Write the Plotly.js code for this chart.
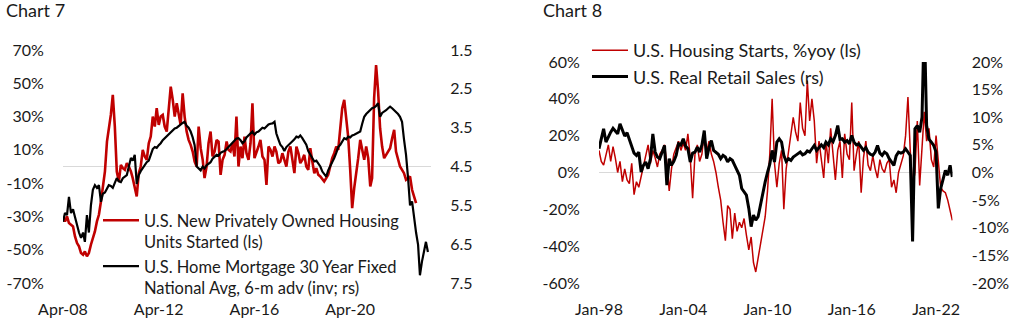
<!DOCTYPE html>
<html>
<head>
<meta charset="utf-8">
<script src="https://cdn.plot.ly/plotly-3.0.1.min.js"></script>
<style>html,body{margin:0;padding:0;background:#fff;}#chart{width:1017px;height:328px;}</style>
</head>
<body>
<div id="chart"></div>
<script>
// ---------- Chart 7 data (monthly, starting Apr-2008) ----------
const c7Start = [2008, 4];
const c7RedName = 'U.S. New Privately Owned Housing<br>Units Started (ls)';
const c7BlackName = 'U.S. Home Mortgage 30 Year Fixed<br>National Avg, 6-m adv (inv; rs)';
const c7Red = [
 -31,-33,-30,-34,-35,-36,-42,-46,-48,-52,
 -53,-51,-54,-52,-47,-43,-39,-33,-29,-21,
 -12,-3,15,23,31,43,24,-3,-9,1,
 -1,-2,2,0,-3,-7,-12,-18,-4,0,
 10,6,4,14,18,30,24,35,25,30,
 31,24,21,34,48,40,30,38,32,25,
 44,30,21,16,13,9,3,0,24,11,
 4,-7,0,14,21,6,9,16,15,-5,
 4,7,15,10,9,14,6,30,0,12,
 5,18,8,4,14,38,5,8,12,16,
 6,4,-11,12,10,6,12,9,2,3,
 8,4,0,9,12,4,-4,12,8,2,
 4,7,0,-2,11,3,-4,-1,-5,-6,
 -8,-9,-7,-5,0,5,8,12,10,24,
 35,40,28,18,-2,-25,-13,-5,5,16,
 9,4,12,5,-12,-7,41,61,45,23,
 12,5,7,9,11,17,22,9,4,0,
 -2,-4,-8,-7,-6,-14,-18,-22
];
const c7Black = [
 5.92,5.7,5.75,5.28,5.7,5.6,5.8,6.05,6.2,6.34,
 6.2,6.44,5.75,6.2,5.5,5.1,4.98,5.05,4.98,5.41,
 5.2,5.17,5.05,4.98,5.0,5.05,4.92,4.8,4.88,4.9,
 4.8,4.75,4.72,4.5,4.28,4.35,4.2,4.95,4.72,4.62,
 4.54,4.48,4.39,4.35,4.2,4.05,4.0,4.02,3.95,3.9,
 3.82,3.77,3.72,3.68,3.64,3.58,3.52,3.5,3.45,3.42,
 3.38,3.35,3.45,3.5,3.6,3.75,3.95,4.5,4.54,4.6,
 4.5,4.55,4.47,4.42,4.39,4.3,4.25,4.2,4.22,4.15,
 4.12,4.1,4.05,4.0,3.95,3.9,3.85,3.78,3.77,3.82,
 3.9,3.85,3.75,3.7,3.65,3.6,3.68,3.62,3.6,3.55,
 3.5,3.52,3.47,3.42,3.4,3.39,3.35,3.65,3.8,3.94,
 4.0,4.1,4.0,3.94,3.9,3.85,3.8,3.73,3.75,3.7,
 3.77,3.85,3.94,4.1,4.2,4.3,4.37,4.35,4.41,4.5,
 4.63,4.7,4.76,4.6,4.5,4.4,4.28,4.15,4.0,3.94,
 3.85,3.77,3.8,3.73,3.75,3.7,3.68,3.65,3.62,3.6,
 3.4,3.22,3.15,3.09,3.05,3.0,2.98,2.94,2.87,3.22,
 3.12,3.09,3.05,3.0,2.96,3.0,3.05,3.09,3.15,3.22,
 3.35,3.8,4.2,4.8,5.5,5.4,5.83,6.2,6.52,7.3,
 6.95,6.7,6.44,6.7
];
const c7XTickVals = ['2008-04-01','2012-04-01','2016-04-01','2020-04-01'];
const c7XTickText = ['Apr-08','Apr-12','Apr-16','Apr-20'];
const c7YLeftVals = [-70,-50,-30,-10,10,30,50,70];
const c7YLeftText = ['-70%','-50%','-30%','-10%','10%','30%','50%','70%'];
const c7YRightVals = [1.5,2.5,3.5,4.5,5.5,6.5,7.5];
const c7YRightText = ['1.5','2.5','3.5','4.5','5.5','6.5','7.5'];

// ---------- Chart 8 data (every 2 months, starting Jan-1998) ----------
const c8Start = [1998, 1];
const c8Step = 2;
const c8RedName = 'U.S. Housing Starts, %yoy (ls)';
const c8BlackName = 'U.S. Real Retail Sales (rs)';
const c8Red = [
 12,6,4,10,15,6,14,8,0,6,
 -5,2,-4,-6,5,-12,-5,-8,-2,4,
 9,15,5,12,8,3,10,12,15,5,
 -10,2,10,14,17,12,16,12,21,8,
 -14,10,15,6,10,22,11,17,10,6,
 0,-8,-15,-27,-37,-18,-20,-36,-22,-32,
 -27,-30,-25,-34,-42,-35,-49,-54,-46,-40,
 -32,-24,-10,10,40,5,-8,5,12,-20,
 2,12,20,30,22,17,38,24,20,50,
 28,40,28,5,17,8,-3,17,5,24,
 10,-4,12,17,-3,21,10,7,38,1,
 10,17,-11,8,17,4,1,9,2,-3,
 7,2,0,5,7,-8,-4,-11,0,4,
 9,20,41,12,-8,0,28,-7,15,33,
 17,24,7,3,20,5,-8,-10,-11,-15,
 -20,-26
];
const c8Black = [
 4.3,6.0,7.9,5.5,6.5,7.3,8.0,7.5,7.0,8.8,
 7.5,6.6,7.2,6.0,4.9,3.5,3.1,3.7,0.1,1.3,
 1.9,0.7,2.5,7.0,3.7,2.8,2.5,3.7,4.9,-2.3,
 2.5,1.3,2.0,3.1,5.2,5.0,6.1,4.8,4.3,1.9,
 3.5,3.7,4.6,3.7,5.0,7.6,2.5,4.5,5.8,4.0,
 3.7,3.3,2.5,3.1,2.8,1.9,2.5,2.2,1.3,0.5,
 -0.5,-2.9,-3.5,-4.1,-6.5,-9.8,-7.7,-8.6,-8.0,-5.9,
 -3.5,-1.7,0.0,1.5,4.0,1.9,5.5,6.1,5.5,3.1,
 2.0,2.5,2.2,2.8,3.1,3.4,3.7,3.2,3.4,3.9,
 3.7,4.3,4.9,4.0,4.6,5.0,4.5,5.5,5.0,6.1,
 5.6,6.7,8.5,6.0,6.1,5.5,5.8,5.2,6.7,5.5,
 5.0,5.2,4.6,4.0,4.5,3.7,3.3,3.1,3.7,4.9,
 3.5,3.1,3.7,3.4,2.5,2.0,1.3,3.0,3.7,3.5,
 3.7,4.3,3.8,3.1,-12.5,7.9,8.5,7.3,10.0,28,
 8.5,6.0,5.5,4.9,3.7,-6.5,-2.9,-1.1,0.4,-0.5,
 1.3,-0.8
];
const c8XTickVals = ['1998-01-01','2004-01-01','2010-01-01','2016-01-01','2022-01-01'];
const c8XTickText = ['Jan-98','Jan-04','Jan-10','Jan-16','Jan-22'];
const c8YLeftVals = [-60,-40,-20,0,20,40,60];
const c8YLeftText = ['-60%','-40%','-20%','0%','20%','40%','60%'];
const c8YRightVals = [-20,-15,-10,-5,0,5,10,15,20];
const c8YRightText = ['-20%','-15%','-10%','-5%','0%','5%','10%','15%','20%'];

// ---------- helpers ----------
function monthDates(start, count, step) {
  const out = [];
  for (let i = 0; i < count; i++) {
    const tot = (start[0] * 12 + (start[1] - 1)) + i * step;
    const y = Math.floor(tot / 12), m = tot % 12 + 1;
    out.push(y + '-' + String(m).padStart(2, '0') + '-01');
  }
  return out;
}

const RED = '#C00000';
const FONT = 'Lato, "Liberation Sans", sans-serif';
const TXT = '#1a1a1a';
const W = 1017, H = 328;

const traces = [
  { x: monthDates(c7Start, c7Red.length, 1), y: c7Red, name: c7RedName, type: 'scatter', mode: 'lines',
    line: { color: RED, width: 2.6 }, xaxis: 'x', yaxis: 'y', legend: 'legend' },
  { x: monthDates(c7Start, c7Black.length, 1), y: c7Black, name: c7BlackName, type: 'scatter', mode: 'lines',
    line: { color: '#000000', width: 2.2 }, xaxis: 'x', yaxis: 'y2', legend: 'legend' },
  { x: monthDates(c8Start, c8Red.length, c8Step), y: c8Red, name: c8RedName, type: 'scatter', mode: 'lines',
    line: { color: RED, width: 1.5 }, xaxis: 'x2', yaxis: 'y3', legend: 'legend2' },
  { x: monthDates(c8Start, c8Black.length, c8Step), y: c8Black, name: c8BlackName, type: 'scatter', mode: 'lines',
    line: { color: '#000000', width: 3 }, xaxis: 'x2', yaxis: 'y4', legend: 'legend2' }
];

const tickFont = { family: FONT, size: 16, color: TXT };
const hidden = 'rgba(0,0,0,0)';
const yDom7 = [1 - 283 / H, 1 - 50 / H];
const yDom8 = [1 - 283 / H, 1 - 62 / H];

const baseX = { type: 'date', showgrid: false, zeroline: false, showline: false, tickmode: 'array',
  ticks: 'outside', ticklen: 12, tickcolor: hidden, tickfont: tickFont, fixedrange: true };
const baseY = { showgrid: false, showline: false, tickmode: 'array', ticks: 'outside', ticklen: 15,
  tickcolor: hidden, tickfont: tickFont, fixedrange: true };

const layout = {
  width: W, height: H,
  margin: { l: 0, r: 0, t: 0, b: 0 },
  paper_bgcolor: '#ffffff', plot_bgcolor: '#ffffff',
  font: { family: FONT, color: TXT },
  xaxis: Object.assign({}, baseX, { domain: [63 / W, 431 / W], anchor: 'y',
    range: ['2008-04-01', '2023-08-17'], tickvals: c7XTickVals, ticktext: c7XTickText }),
  yaxis: Object.assign({}, baseY, { domain: yDom7, anchor: 'x', range: [-70, 70],
    tickvals: c7YLeftVals, ticktext: c7YLeftText, zeroline: true, zerolinecolor: '#d9d9d9', zerolinewidth: 1 }),
  yaxis2: Object.assign({}, baseY, { overlaying: 'y', side: 'right', anchor: 'x', range: [7.5, 1.5],
    tickvals: c7YRightVals, ticktext: c7YRightText, zeroline: false }),
  xaxis2: Object.assign({}, baseX, { domain: [599 / W, 952.5 / W], anchor: 'y3',
    range: ['1998-01-01', '2023-03-05'], tickvals: c8XTickVals, ticktext: c8XTickText }),
  yaxis3: Object.assign({}, baseY, { domain: yDom8, anchor: 'x2', range: [-60, 60],
    tickvals: c8YLeftVals, ticktext: c8YLeftText, zeroline: true, zerolinecolor: '#d9d9d9', zerolinewidth: 1 }),
  yaxis4: Object.assign({}, baseY, { overlaying: 'y3', side: 'right', anchor: 'x2', range: [-20, 20],
    tickvals: c8YRightVals, ticktext: c8YRightText, zeroline: false }),
  showlegend: true,
  legend: { x: 98 / W, xanchor: 'left', y: 1 - 203 / H, yanchor: 'top', bgcolor: hidden, borderwidth: 0,
    font: { family: FONT, size: 16.5, color: TXT }, valign: 'top', tracegroupgap: 0, itemwidth: 36 },
  legend2: { x: 587 / W, xanchor: 'left', y: 1 - 32 / H, yanchor: 'top', bgcolor: hidden, borderwidth: 0,
    font: { family: FONT, size: 18, color: TXT }, tracegroupgap: 0, itemwidth: 36 },
  annotations: [
    { text: 'Chart 7', xref: 'paper', yref: 'paper', x: 4 / W, y: 1 - 10 / H, xanchor: 'left', yanchor: 'middle',
      showarrow: false, font: { family: FONT, size: 18, color: TXT } },
    { text: 'Chart 8', xref: 'paper', yref: 'paper', x: 541 / W, y: 1 - 10 / H, xanchor: 'left', yanchor: 'middle',
      showarrow: false, font: { family: FONT, size: 18, color: TXT } }
  ]
};

Plotly.newPlot('chart', traces, layout, { displayModeBar: false, staticPlot: true });
</script>
</body>
</html>
